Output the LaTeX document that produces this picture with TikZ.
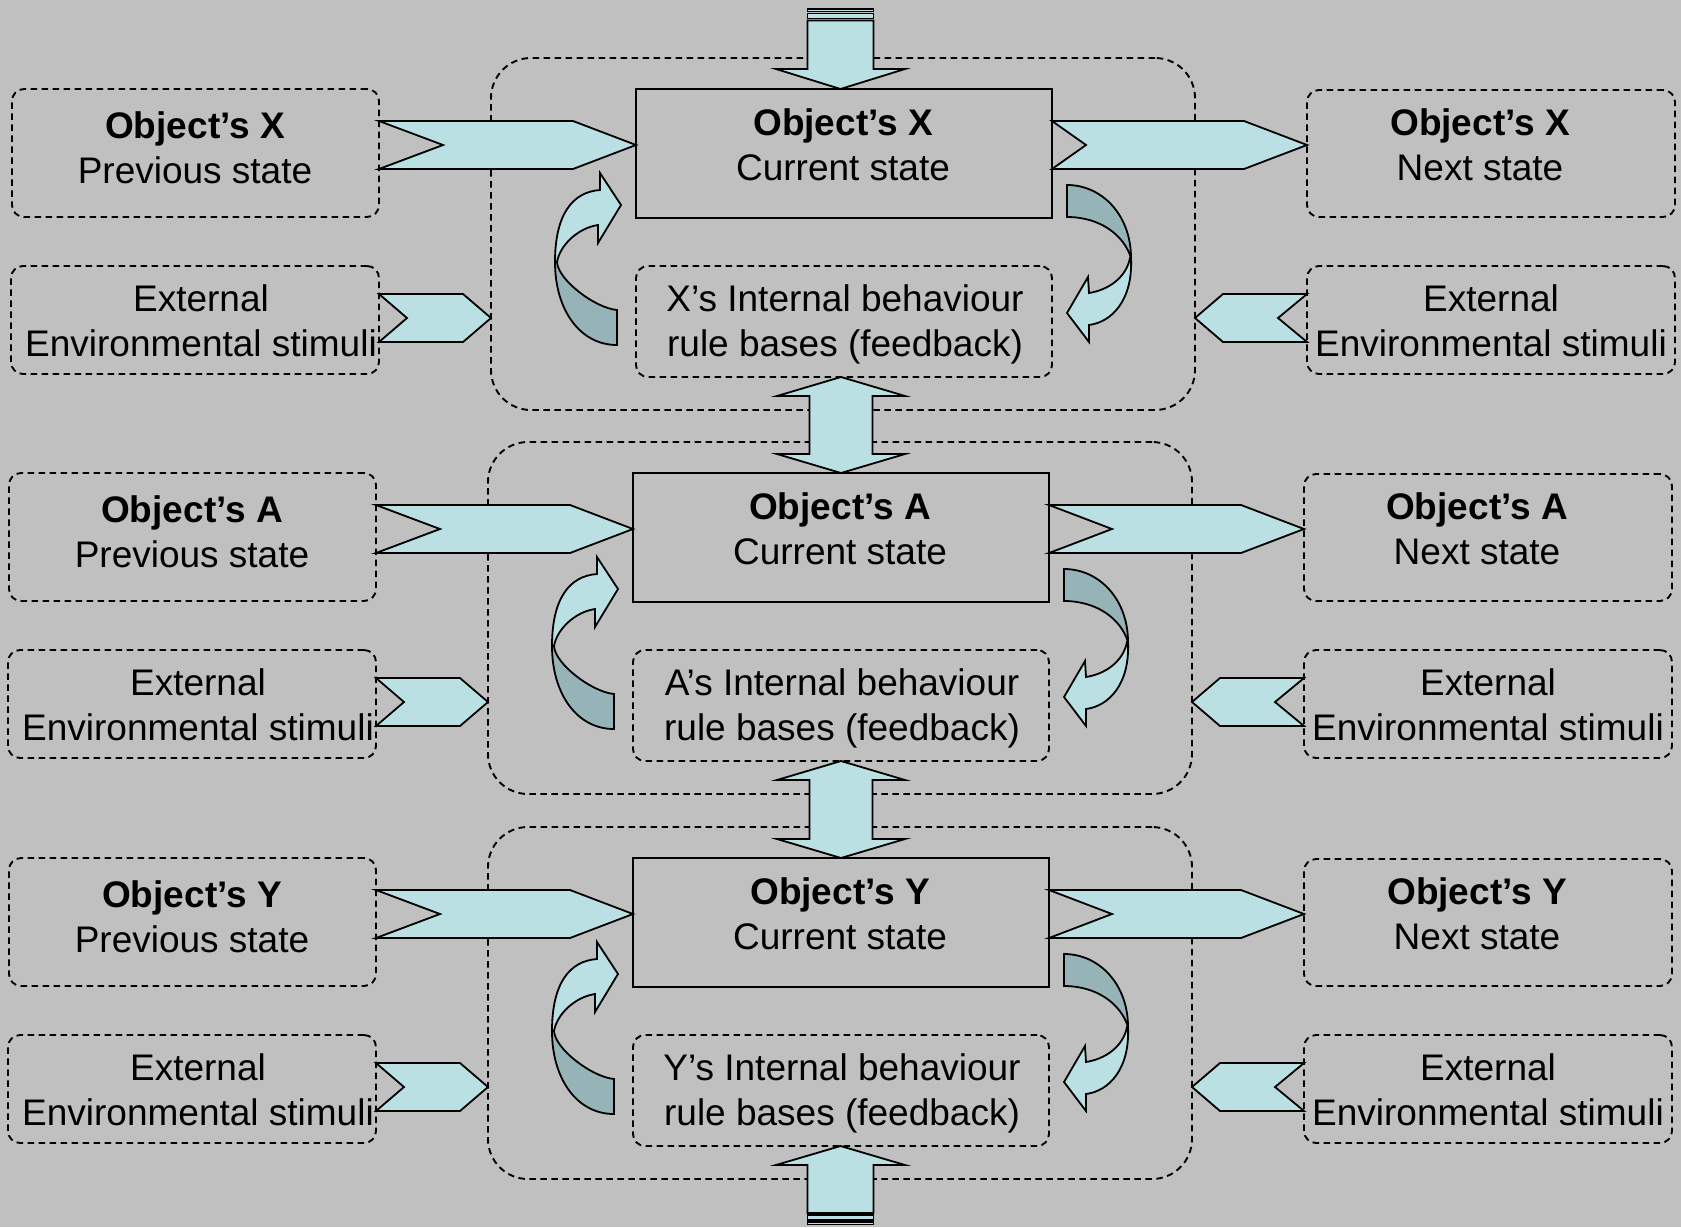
\documentclass[tikz,border=0pt]{standalone}
\usepackage{fontspec}
\setmainfont{Liberation Sans}
\usetikzlibrary{calc}

\definecolor{bg}{HTML}{C0C0C0}
\definecolor{arrowlight}{HTML}{BAE0E3}
\definecolor{arrowdark}{HTML}{96B4B8}

\tikzset{
  dashbox/.style={draw=black, line width=1.9pt, dash pattern=on 6.5pt off 4.5pt,
    rounded corners=12pt, inner sep=0pt, outer sep=0pt},
  container/.style={dashbox, rounded corners=40pt},
  solidbox/.style={draw=black, line width=2pt, fill=bg, inner sep=0pt, outer sep=0pt},
  blockarrow/.style={draw=black, line width=1.8pt, fill=arrowlight, line join=miter},
  backside/.style={draw=black, line width=1.8pt, fill=arrowdark},
  txt/.style={font=\fontsize{37}{45}\selectfont, align=center, inner sep=0pt},
}

% uniform line height so two-line labels centre predictably
\newcommand\lnstrut{\rule[-10pt]{0pt}{45pt}}

% box node given by its corners (pixel units, y downwards)
\newcommand\boxnode[6]{%
  \node[#2, minimum width={(#5)-(#3)}, minimum height={(#6)-(#4)}]
    (#1) at ({((#3)+(#5))/2},{((#4)+(#6))/2}) {};}

% right-pointing chevron between two anchors; #3 gives the mid height
\newcommand\chevright[5]{%
  \draw[blockarrow] let \p1=(#1), \p2=(#2), \p3=(#3) in
    (\x1,\y3+24pt) -- (\x2-#5,\y3+24pt) -- (\x2,\y3) -- (\x2-#5,\y3-24pt)
    -- (\x1,\y3-24pt) -- (\x1+#4,\y3) -- cycle;}

% left-pointing chevron: #1 is the back end, #2 the tip
\newcommand\chevleft[5]{%
  \draw[blockarrow] let \p1=(#1), \p2=(#2), \p3=(#3) in
    (\x1,\y3+24pt) -- (\x2+#5,\y3+24pt) -- (\x2,\y3) -- (\x2+#5,\y3-24pt)
    -- (\x1,\y3-24pt) -- (\x1-#4,\y3) -- cycle;}

% two-headed vertical block arrow from #1 (top tip) to #2 (bottom tip)
\newcommand\dblarrow[2]{%
  \draw[blockarrow] let \p1=(#1), \p2=(#2) in
    (\x2,\y1) -- (\x2+64pt,\y1-19pt) -- (\x2+31.5pt,\y1-19pt) -- (\x2+31.5pt,\y2+19pt)
    -- (\x2+64pt,\y2+19pt) -- (\x2,\y2) -- (\x2-64pt,\y2+19pt) -- (\x2-31.5pt,\y2+19pt)
    -- (\x2-31.5pt,\y1-19pt) -- (\x2-64pt,\y1-19pt) -- cycle;}

% one object: its previous/current/next states, stimuli and feedback loop
% #1 letter, #2/#3 offset, #4 notch depth of the outgoing chevron
\newcommand\objectrow[4]{%
\begin{scope}[shift={(#2,#3)}]
  \boxnode{cont#1}{container}{491}{58}{1195}{410}
  \boxnode{prev#1}{dashbox}{12}{89}{379}{217}
  \boxnode{extl#1}{dashbox}{11}{266}{379}{374}
  \boxnode{cur#1}{solidbox}{636}{89}{1052}{218}
  \boxnode{int#1}{dashbox}{636}{266}{1052}{377}
  \boxnode{next#1}{dashbox}{1307}{90}{1675}{217}
  \boxnode{extr#1}{dashbox}{1307}{266}{1675}{374}

  \node[txt] (prev#1t) at (195,148) {\textbf{Object’s #1}\lnstrut\\Previous state\lnstrut};
  \node[txt] (extl#1t) at (201,321.5) {External\lnstrut\\Environmental stimuli\lnstrut};
  \node[txt] (cur#1t) at (843,145) {\textbf{Object’s #1}\lnstrut\\Current state\lnstrut};
  \node[txt] (int#1t) at (845,321.5) {#1’s Internal behaviour\lnstrut\\rule bases (feedback)\lnstrut};
  \node[txt] (next#1t) at (1480,145) {\textbf{Object’s #1}\lnstrut\\Next state\lnstrut};
  \node[txt] (extr#1t) at (1491,321.5) {External\lnstrut\\Environmental stimuli\lnstrut};

  \coordinate (mainy#1) at (0,145);
  \coordinate (sidey#1) at (0,318);
  \chevright{prev#1.east}{cur#1.west}{mainy#1}{64pt}{63pt}
  \chevright{cur#1.east}{next#1.west}{mainy#1}{#4}{63pt}
  \chevright{extl#1.east}{cont#1.west}{sidey#1}{28pt}{28pt}
  \chevleft{extr#1.west}{cont#1.east}{sidey#1}{29pt}{28pt}

  % feedback loop, left: rule base back up to the current state
  \draw[backside] (555,262) .. controls (555,310) and (580,345) .. (617,345)
    -- (617,310) .. controls (595,308) and (558,280) .. (557,262) -- cycle;
  \draw[blockarrow] (555,262) .. controls (555,215) and (572,192) .. (600,190)
    -- (600,173) -- (621,205) -- (598,243) -- (598,225)
    .. controls (578,228) and (560,245) .. (557,262) -- cycle;
  % feedback loop, right: current state down to the rule base
  \draw[backside] (1067,185) .. controls (1102,185) and (1131,215) .. (1131,258)
    .. controls (1124,235) and (1100,217) .. (1067,217) -- cycle;
  \draw[blockarrow] (1131,258) .. controls (1133,300) and (1112,322) .. (1089,325)
    -- (1089,342) -- (1067,313) -- (1088,277) -- (1089,293)
    .. controls (1108,290) and (1126,278) .. (1130,258) -- cycle;
\end{scope}}

\begin{document}
\begin{tikzpicture}[x=1pt,y=-1pt]
  \fill[bg] (0,0) rectangle (1681,1227);
  \useasboundingbox (0,0) rectangle (1681,1227);

  \objectrow{X}{0}{0}{34pt}
  \objectrow{A}{-3}{384}{63pt}
  \objectrow{Y}{-3}{769}{63pt}

  % links between neighbouring objects
  \dblarrow{intX.south}{curA.north}
  \dblarrow{intA.south}{curY.north}

  % inflow at the top
  \coordinate (topin) at (840.5,20.5);
  \draw[blockarrow, line width=1.4pt] (807.5,9) rectangle (873.5,11.5);
  \draw[blockarrow, line width=1.4pt] (807.5,13.5) rectangle (873.5,18.5);
  \draw[blockarrow] let \p1=(topin), \p2=(curX.north) in
    (\x1-33pt,\y1) -- (\x1+33pt,\y1) -- (\x1+33pt,\y2+20pt) -- (\x1+64.5pt,\y2+20pt)
    -- (\x1,\y2) -- (\x1-64.5pt,\y2+20pt) -- (\x1-33pt,\y2+20pt) -- cycle;

  % inflow at the bottom
  \coordinate (botin) at (840.5,1213);
  \draw[blockarrow, line width=1.4pt] (807.5,1215) rectangle (873.5,1220);
  \draw[blockarrow, line width=1.4pt] (807.5,1222) rectangle (873.5,1224.5);
  \draw[blockarrow] let \p1=(intY.south), \p2=(botin) in
    (\x2-33pt,\y2) -- (\x2+33pt,\y2) -- (\x2+33pt,\y1-19pt) -- (\x2+64.5pt,\y1-19pt)
    -- (\x2,\y1) -- (\x2-64.5pt,\y1-19pt) -- (\x2-33pt,\y1-19pt) -- cycle;
\end{tikzpicture}
\end{document}
